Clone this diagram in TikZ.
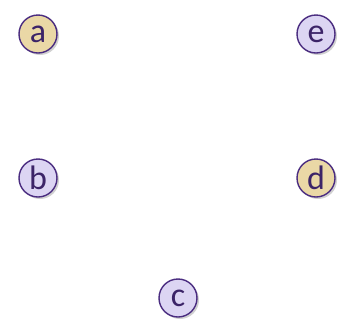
\documentclass[tikz,border=0pt]{standalone}
\usepackage{fontspec}
\setmainfont{Carlito}
\usetikzlibrary{shadows}
\definecolor{tanfill}{HTML}{EAD8A6}
\definecolor{lavfill}{HTML}{DCD5F3}
\definecolor{rim}{HTML}{4A2C80}
\definecolor{ink}{HTML}{3C2468}
\begin{document}
\begin{tikzpicture}[x=1pt,y=-1pt,
  vert/.style={circle,draw=rim,line width=1.4pt,minimum size=38pt,inner sep=0pt,
    text=ink,font=\fontsize{34}{34}\selectfont,
    drop shadow={shadow xshift=2pt,shadow yshift=-2pt,opacity=0.3,fill=black!60}},
  tan/.style={vert,fill=tanfill},
  lav/.style={vert,fill=lavfill}]
\useasboundingbox (0,0) rectangle (348,325);
\node[tan] (a) at (38,34) {a};
\node[lav] (e) at (316,34) {e};
\node[lav] (b) at (38,178) {b};
\node[tan] (d) at (316,178) {d};
\node[lav] (c) at (178,298) {c};
\end{tikzpicture}
\end{document}
